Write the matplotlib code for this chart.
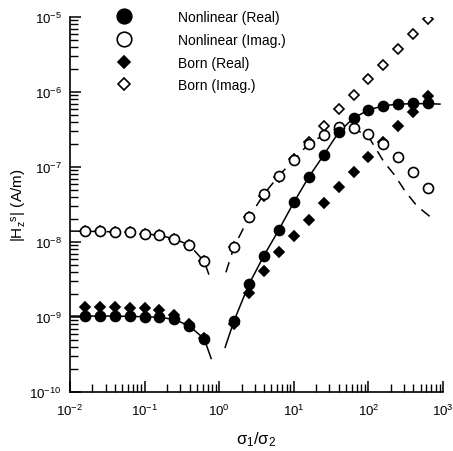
import numpy as np
import matplotlib
matplotlib.use("Agg")
import matplotlib.pyplot as plt
from matplotlib.lines import Line2D

plt.rcParams['font.family'] = ['Liberation Sans', 'DejaVu Sans']
plt.rcParams['mathtext.default'] = 'regular'

# conductivity ratio sigma1/sigma2 (markers)
x_left = [0.0158, 0.0251, 0.0398, 0.0631, 0.1, 0.158, 0.251, 0.398, 0.631]
x_right = [1.58, 2.51, 3.98, 6.31, 10, 15.8, 25.1, 39.8, 63.1, 100, 158, 251, 398, 631]

# |Hz^s| (A/m)
nl_real_left = [1.03e-9, 1.03e-9, 1.03e-9, 1.02e-9, 1.01e-9, 0.99e-9, 0.93e-9, 7.6e-10, 5.1e-10]
nl_imag_left = [1.39e-8, 1.39e-8, 1.36e-8, 1.35e-8, 1.29e-8, 1.23e-8, 1.10e-8, 9.1e-9, 5.5e-9]
born_real_left = [1.35e-9, 1.35e-9, 1.34e-9, 1.32e-9, 1.30e-9, 1.25e-9, 1.08e-9, 8.0e-10, 5.2e-10]
born_imag_left = [1.39e-8, 1.39e-8, 1.37e-8, 1.35e-8, 1.29e-8, 1.23e-8, 1.10e-8, 9.1e-9, 5.5e-9]

nl_real_right = [8.9e-10, 2.75e-9, 6.6e-9, 1.46e-8, 3.38e-8, 7.3e-8, 1.44e-7, 2.9e-7,
                 4.5e-7, 5.75e-7, 6.56e-7, 6.9e-7, 7.1e-7, 7.1e-7]
nl_imag_right = [8.65e-9, 2.13e-8, 4.36e-8, 7.66e-8, 1.25e-7, 2.03e-7, 2.67e-7, 3.39e-7,
                 3.31e-7, 2.75e-7, 2.03e-7, 1.35e-7, 8.65e-8, 5.25e-8]
born_real_right = [8.0e-10, 2.09e-9, 4.15e-9, 7.4e-9, 1.19e-8, 1.98e-8, 3.28e-8, 5.36e-8,
                   8.5e-8, 1.35e-7, 2.17e-7, 3.49e-7, 5.36e-7, 8.9e-7]
born_imag_right = [8.6e-9, 2.13e-8, 4.14e-8, 7.4e-8, 1.28e-7, 2.13e-7, 3.56e-7, 5.93e-7,
                   9.1e-7, 1.49e-6, 2.31e-6, 3.74e-6, 5.93e-6, 9.4e-6]

# model curves
cx_real_left = [0.01, 0.0158, 0.0398, 0.1, 0.158, 0.251, 0.398, 0.631, 0.78]
cy_real_left = [1.03e-9, 1.03e-9, 1.03e-9, 1.01e-9, 0.99e-9, 0.93e-9, 7.6e-10, 5.1e-10, 2.8e-10]
cx_imag_left = [0.01, 0.0158, 0.0398, 0.1, 0.158, 0.251, 0.398, 0.631, 0.736]
cy_imag_left = [1.40e-8, 1.39e-8, 1.37e-8, 1.29e-8, 1.23e-8, 1.10e-8, 9.1e-9, 5.5e-9, 3.56e-9]
cx_real_right = [1.2, 1.58, 2.51, 3.98, 6.31, 10, 15.8, 25.1, 39.8, 63.1, 100, 158, 251, 398, 631, 910]
cy_real_right = [3.94e-10, 8.9e-10, 2.75e-9, 6.6e-9, 1.46e-8, 3.38e-8, 7.3e-8, 1.44e-7, 2.9e-7,
                 4.5e-7, 5.75e-7, 6.56e-7, 6.9e-7, 7.0e-7, 7.0e-7, 6.9e-7]
cx_imag_right = [1.23, 1.58, 2.51, 3.98, 6.31, 10, 15.8, 25.1, 39.8, 50, 63.1, 100, 158, 227, 309, 443, 705, 782]
cy_imag_right = [3.94e-9, 8.65e-9, 2.13e-8, 4.36e-8, 7.66e-8, 1.25e-7, 2.03e-7, 2.67e-7, 3.39e-7,
                 3.45e-7, 3.28e-7, 2.55e-7, 1.21e-7, 7.66e-8, 4.8e-8, 3.05e-8, 2.09e-8, 1.92e-8]

labels = ['Nonlinear (Real)', 'Nonlinear (Imag.)', 'Born (Real)', 'Born (Imag.)']

fig = plt.figure(figsize=(4.53, 4.52), dpi=100)
ax = fig.add_axes([0.1545, 0.1305, 0.8235, 0.8296])

lw = 1.1
dash = (0, (7, 5))
ax.plot(cx_real_left, cy_real_left, color='black', lw=lw)
ax.plot(cx_real_right, cy_real_right, color='black', lw=lw)
ax.plot(cx_imag_left, cy_imag_left, color='black', lw=lw, ls=dash)
ax.plot(cx_imag_right, cy_imag_right, color='black', lw=lw, ls=dash)

circ = dict(marker='o', ms=7.2, ls='none', mew=1.2, color='black')
diam = dict(marker='D', ms=4.8, ls='none', mew=1.2, color='black')
for xs, nr, ni, br, bi in [(x_left, nl_real_left, nl_imag_left, born_real_left, born_imag_left),
                          (x_right, nl_real_right, nl_imag_right, born_real_right, born_imag_right)]:
    ax.plot(xs, bi, mfc='white', zorder=3, **diam)
    ax.plot(xs, br, zorder=3, **diam)
    ax.plot(xs, ni, mfc='white', zorder=4, **circ)
    ax.plot(xs, nr, zorder=4, **circ)

ax.set_xscale('log')
ax.set_yscale('log')
ax.set_xlim(1e-2, 1e3)
ax.set_ylim(1e-10, 1e-5)
ax.set_xticks([1e-2, 1e-1, 1e0, 1e1, 1e2, 1e3])
ax.set_yticks([1e-10, 1e-9, 1e-8, 1e-7, 1e-6, 1e-5])
ax.spines['top'].set_visible(False)
ax.spines['right'].set_visible(False)
for s in ('left', 'bottom'):
    ax.spines[s].set_linewidth(1.2)
ax.tick_params(which='major', direction='in', length=8, width=1.1, labelsize=9.5)
ax.tick_params(which='minor', direction='in', length=5.5, width=1.0)
ax.tick_params(axis='x', which='major', pad=8)
ax.tick_params(axis='y', which='major', pad=6)

ax.set_xlabel('σ$_1$/σ$_2$', fontsize=12, labelpad=8)
ax.set_ylabel('|H$_z$$^s$| (A/m)', fontsize=11, labelpad=0)

leg_circ = dict(circ, ms=10.5)
leg_diam = dict(diam, ms=6.5)
handles = [Line2D([], [], mfc='black', **leg_circ),
           Line2D([], [], mfc='white', **leg_circ),
           Line2D([], [], mfc='black', **leg_diam),
           Line2D([], [], mfc='white', **leg_diam)]
ax.legend(handles, labels, loc='upper left', bbox_to_anchor=(110 / 453, 0.975),
          bbox_transform=fig.transFigure, frameon=False, fontsize=10, numpoints=1,
          handlelength=2, handletextpad=2.9, labelspacing=0.62, borderpad=0, borderaxespad=0)

fig.savefig('out.png', dpi=100)
